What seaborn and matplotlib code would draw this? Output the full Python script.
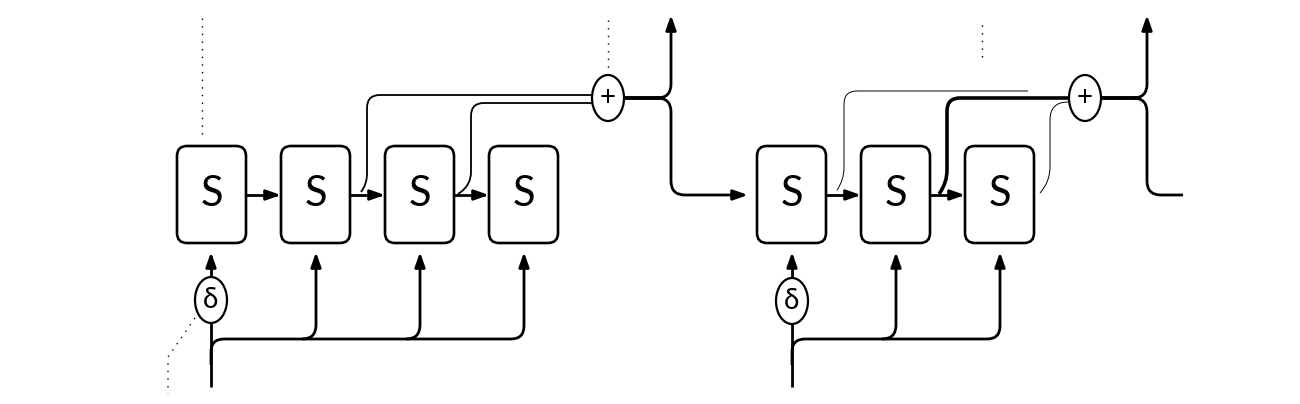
import numpy as np
import matplotlib
matplotlib.use("Agg")
import matplotlib.pyplot as plt
import seaborn as sns
from matplotlib.path import Path
from matplotlib.patches import FancyBboxPatch, FancyArrowPatch, Ellipse, PathPatch

# --- diagram content -------------------------------------------------
box_label = "S"
delta_label = "δ"
sum_label = "+"

# left chain: four S blocks, right chain: three S blocks
left_boxes = [177, 281, 385, 489]
right_boxes = [757, 861, 965]
box_top, box_bottom, box_w = 146, 243, 69

left_delta = (211, 300)
right_delta = (792, 301)
left_sum = (608, 98)
right_sum = (1085, 98)

sns.set_theme(style="white")
plt.rcParams['font.family'] = ['Liberation Sans Narrow', 'Lato', 'DejaVu Sans']
plt.rcParams['text.color'] = 'black'

fig = plt.figure(figsize=(13, 4.04), dpi=100)
ax = fig.add_axes([0, 0, 1, 1])
ax.set_xlim(0, 1300)
ax.set_ylim(404, 0)
ax.axis("off")


def rounded_path(pts, r):
    pts = [np.array(p, dtype=float) for p in pts]
    verts = [pts[0]]
    codes = [Path.MOVETO]
    n = len(pts)
    for i in range(1, n - 1):
        p0, p1, p2 = pts[i - 1], pts[i], pts[i + 1]
        d1 = p1 - p0
        d2 = p2 - p1
        l1 = np.hypot(*d1)
        l2 = np.hypot(*d2)
        rr = min(r, l1 if i == 1 else l1 / 2, l2 if i == n - 2 else l2 / 2)
        a = p1 - d1 / l1 * rr
        b = p1 + d2 / l2 * rr
        verts += [a, p1, b]
        codes += [Path.LINETO, Path.CURVE3, Path.CURVE3]
    verts.append(pts[-1])
    codes.append(Path.LINETO)
    return Path(np.array(verts), codes)


def wire(pts, r=12, lw=2.0, arrow=False, ls="-"):
    path = rounded_path(pts, r)
    if arrow:
        p = FancyArrowPatch(path=path, arrowstyle="-|>,head_length=0.8,head_width=0.28",
                            mutation_scale=11, lw=lw, color="black", linestyle=ls,
                            capstyle="butt", joinstyle="round")
    else:
        p = PathPatch(path, fill=False, lw=lw, color="black", linestyle=ls, capstyle="butt")
    ax.add_patch(p)


def block(x):
    ax.add_patch(FancyBboxPatch((x, box_top), box_w, box_bottom - box_top,
                                boxstyle="round,pad=0,rounding_size=10",
                                fc="white", ec="black", lw=1.9, zorder=3))
    ax.text(x + box_w / 2, (box_top + box_bottom) / 2 - 1, box_label, fontsize=30,
            color="black", ha="center", va="center", zorder=4)


def node(center, label, size):
    ax.add_patch(Ellipse(center, 32, 46, fc="white", ec="black", lw=1.6, zorder=3))
    ax.text(center[0], center[1], label, fontsize=size, color="black",
            ha="center", va="center", zorder=4)


def chain(xs, delta):
    for x in xs:
        block(x)
    for a, b in zip(xs[:-1], xs[1:]):
        wire([(a + box_w, 195), (b, 195)], arrow=True)
    dx, dy = delta
    node(delta, delta_label, 20)
    wire([(dx, 387), (dx, dy + 23)])
    wire([(dx, dy - 23), (dx, 252)], arrow=True)
    last = xs[-1] + 35
    wire([(dx, 365), (dx, 339), (last, 339), (last, 252)], r=13, arrow=True)
    for x in xs[1:-1]:
        cx = x + 35
        wire([(cx - 14, 339), (cx, 339), (cx, 252)], r=14, arrow=True)


def fork(sx, up_x, down_end, arrow_down):
    wire([(sx + 16, 98), (up_x - 10, 98)], lw=2.8)
    wire([(up_x - 16, 98), (up_x, 98), (up_x, 15)], r=14, lw=2.0, arrow=True)
    wire([(up_x - 16, 98), (up_x, 98), (up_x, 195), (down_end, 195)], r=14, lw=2.0,
         arrow=arrow_down)


# left chain
chain(left_boxes, left_delta)
node(left_sum, sum_label, 20)
wire([(361, 192), (367, 184), (367, 95), (593, 95)], r=13, lw=1.3)
wire([(458, 194), (471, 185), (471, 103), (593, 103)], r=13, lw=1.3)
fork(left_sum[0], 671, 748, True)

# right chain
chain(right_boxes, right_delta)
node(right_sum, sum_label, 20)
wire([(837, 190), (844, 180), (844, 91), (1028, 91)], r=13, lw=0.7)
wire([(939, 194), (947, 183), (947, 98), (1069, 98)], r=13, lw=2.6)
wire([(1040, 193), (1050, 182), (1050, 102), (1068, 102)], r=18, lw=0.7)
fork(right_sum[0], 1147, 1183, False)

# dotted continuation marks
dots = (0, (1, 4.5))
wire([(202, 18), (202, 136)], lw=1.0, ls=dots)
wire([(195, 318), (168, 357), (168, 394)], r=1, lw=1.0, ls=dots)
wire([(608, 20), (608, 68)], lw=1.0, ls=dots)
wire([(982, 25), (982, 61)], lw=1.0, ls=dots)

fig.savefig("out.png", dpi=100, facecolor="white")
